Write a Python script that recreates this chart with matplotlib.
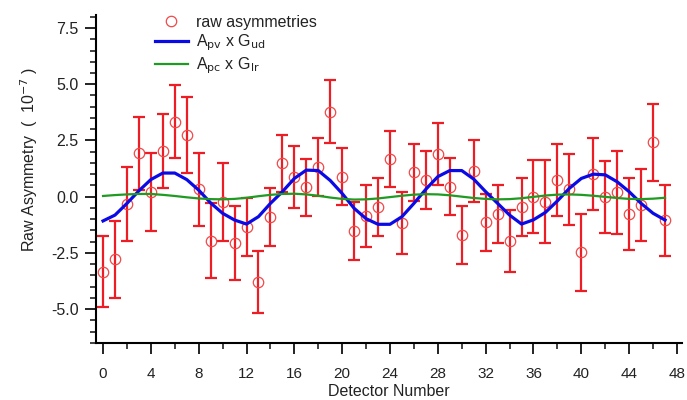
## raw asymmetry per detector with fitted modulations
import numpy as np
import matplotlib.pyplot as plt
from matplotlib.ticker import MultipleLocator

## data, units of 1e-7
detector = list(range(48))
raw_asym = [-3.35, -2.78, -0.34, 1.93, 0.19, 2.03, 3.33, 2.74, 0.32, -1.96,
            -0.23, -2.05, -1.34, -3.78, -0.89, 1.48, 0.86, 0.41, 1.33, 3.78,
            0.89, -1.52, -0.86, -0.45, 1.67, -1.16, 1.08, 0.74, 1.90, 0.44,
            -1.71, 1.14, -1.14, -0.77, -1.98, -0.45, 0.00, -0.23, 0.74, 0.32,
            -2.48, 1.01, 0.00, 0.19, -0.77, -0.37, 2.42, -1.04]
raw_err = [1.58, 1.71, 1.65, 1.62, 1.73, 1.63, 1.63, 1.70, 1.63, 1.68,
           1.74, 1.65, 1.28, 1.38, 1.29, 1.26, 1.38, 1.28, 1.28, 1.39,
           1.27, 1.28, 1.38, 1.29, 1.26, 1.38, 1.28, 1.29, 1.39, 1.26,
           1.28, 1.38, 1.27, 1.27, 1.37, 1.28, 1.62, 1.85, 1.58, 1.59,
           1.70, 1.59, 1.60, 1.85, 1.59, 1.60, 1.72, 1.58]
apv_gud = [-1.08, -0.82, -0.30, 0.26, 0.76, 1.05, 1.05, 0.76, 0.29, -0.28,
           -0.74, -1.04, -1.22, -0.89, -0.30, 0.22, 0.81, 1.18, 1.16, 0.72,
           0.14, -0.52, -0.98, -1.23, -1.23, -0.89, -0.30, 0.33, 0.89, 1.16,
           1.16, 0.78, 0.22, -0.30, -0.82, -1.22, -1.03, -0.70, -0.19, 0.37,
           0.81, 1.00, 0.97, 0.66, 0.22, -0.30, -0.74, -1.04]
apc_glr = [0.03, 0.07, 0.10, 0.12, 0.12, 0.08, 0.03, -0.03, -0.08, -0.11,
           -0.12, -0.10, -0.05, 0.02, 0.08, 0.12, 0.13, 0.10, 0.04, -0.04,
           -0.10, -0.13, -0.12, -0.08, -0.02, 0.04, 0.09, 0.11, 0.10, 0.06,
           0.00, -0.06, -0.10, -0.12, -0.11, -0.07, -0.01, 0.05, 0.09, 0.10,
           0.08, 0.04, -0.01, -0.06, -0.10, -0.11, -0.09, -0.05]

plt.rcParams['font.family'] = ['Liberation Sans', 'DejaVu Sans']

fig = plt.figure(figsize=(6.87, 4.0), dpi=100)
ax = fig.add_axes([95.5/687, (400-343)/400, (682-95.5)/687, (343-15)/400])

red = '#ee1c24'
## error bars + open circles
ax.errorbar(detector, raw_asym, yerr=raw_err, fmt='none', ecolor=red,
            elinewidth=1.6, capsize=4, capthick=1.6, zorder=2)
ax.plot(detector, raw_asym, 'o', mfc='none', mec='#f04848', mew=0.9,
        ms=7.5, label='raw asymmetries', zorder=3)
## fitted curves
ax.plot(detector, apv_gud, color='#0a0ae6', lw=2.3,
        label=r'A$_{\rm pv}$ x G$_{\rm ud}$', zorder=4)
ax.plot(detector, apc_glr, color='#1f9a22', lw=1.6,
        label=r'A$_{\rm pc}$ x G$_{\rm lr}$', zorder=4)

## axes (igor style, no box)
ax.set_xlim(-0.63, 48.42)
ax.set_ylim(-6.51, 8.08)
for s in ['top', 'right']:
    ax.spines[s].set_visible(False)
for s in ['left', 'bottom']:
    ax.spines[s].set_linewidth(1.5)
ax.xaxis.set_major_locator(MultipleLocator(4))
ax.xaxis.set_minor_locator(MultipleLocator(2))
ax.yaxis.set_major_locator(MultipleLocator(2.5))
ax.yaxis.set_minor_locator(MultipleLocator(0.5))
ax.yaxis.set_major_formatter(plt.FuncFormatter(lambda v, p: '%.1f' % v))
ax.tick_params(which='major', length=8, width=1.4, labelsize=11.5,
               colors='#222222', pad=4)
ax.tick_params(which='minor', length=4.5, width=1.2, colors='#222222')
ax.tick_params(axis='x', pad=9, labelsize=11)

ax.set_xlabel('Detector Number', fontsize=11.5, color='#222222')
ax.xaxis.set_label_coords(0.5, -0.125)
ax.set_ylabel(r'Raw Asymmetry  (  10$^{-7}$ )', fontsize=11.5, color='#222222')
ax.yaxis.set_label_coords(-0.095, 0.56)

leg = ax.legend(loc='upper left', bbox_to_anchor=(0.09, 1.02), frameon=False,
                fontsize=11.5, handlelength=2.1, handletextpad=0.5,
                labelspacing=0.15, borderaxespad=0)
for t in leg.get_texts():
    t.set_color('#222222')

fig.savefig('out.png', dpi=100)
